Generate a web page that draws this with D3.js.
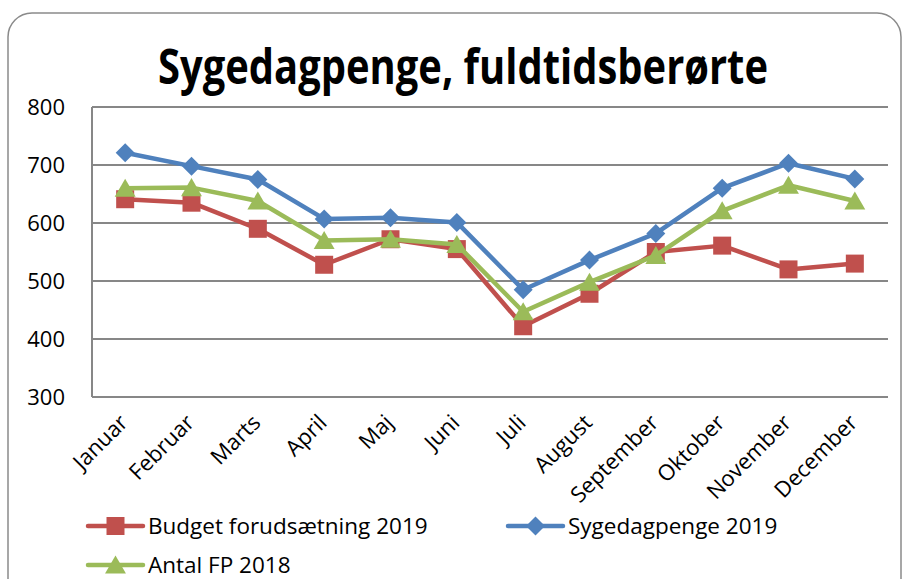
<!DOCTYPE html>
<html>
<head>
<meta charset="utf-8">
<script src="https://cdn.jsdelivr.net/npm/d3@7"></script>
<style>
  body { margin: 0; background: #fff; }
  text { font-family: "Open Sans", "Noto Sans", sans-serif; fill: #000; }
</style>
</head>
<body>
<div id="viz"></div>
<script>
// ====================
// DATA
// ====================
const months = ['Januar', 'Februar', 'Marts', 'April', 'Maj', 'Juni', 'Juli',
  'August', 'September', 'Oktober', 'November', 'December'];
const budget2019 = [641, 635, 590, 528, 572, 555, 422, 478, 550, 561, 520, 530];
const sygedagpenge2019 = [721, 698, 675, 607, 609, 601, 485, 536, 582, 660, 703, 676];
const antalFP2018 = [660, 661, 638, 570, 572, 563, 447, 498, 544, 621, 665, 638];
const yTicks = [300, 400, 500, 600, 700, 800];

const series = [
  { name: 'Budget forudsætning 2019', values: budget2019, color: '#C0504D', marker: 'square' },
  { name: 'Sygedagpenge 2019', values: sygedagpenge2019, color: '#4F81BD', marker: 'diamond' },
  { name: 'Antal FP 2018', values: antalFP2018, color: '#9BBB59', marker: 'triangle' }
];

// ====================
// SETUP
// ====================
const width = 907;
const height = 579;
const plot = { left: 92, right: 888, top: 107, bottom: 397 };

const svg = d3.select('#viz').append('svg')
  .attr('width', width)
  .attr('height', height);

// chart border (rounded, cut off at right/bottom)
svg.append('rect')
  .attr('x', 8).attr('y', 13)
  .attr('width', 893).attr('height', 620)
  .attr('rx', 24)
  .attr('fill', 'none')
  .attr('stroke', '#8a8a8a')
  .attr('stroke-width', 1.5);

// title
svg.append('text')
  .attr('x', 463).attr('y', 84)
  .attr('text-anchor', 'middle')
  .attr('font-size', 48)
  .attr('font-weight', 700)
  .attr('textLength', 610)
  .attr('lengthAdjust', 'spacingAndGlyphs')
  .text('Sygedagpenge, fuldtidsberørte');

// Scales
const x = d3.scaleBand().domain(months).range([plot.left, plot.right]);
const y = d3.scaleLinear().domain([300, 800]).range([plot.bottom, plot.top]);
const cx = (m) => x(m) + x.bandwidth() / 2;

// grid lines
svg.append('g')
  .selectAll('line')
  .data(yTicks)
  .join('line')
  .attr('x1', plot.left).attr('x2', plot.right)
  .attr('y1', (d) => y(d)).attr('y2', (d) => y(d))
  .attr('stroke', '#878787')
  .attr('stroke-width', 2);

// y axis line
svg.append('line')
  .attr('x1', plot.left).attr('x2', plot.left)
  .attr('y1', plot.top).attr('y2', plot.bottom)
  .attr('stroke', '#878787')
  .attr('stroke-width', 2);

// y labels
svg.append('g')
  .selectAll('text')
  .data(yTicks)
  .join('text')
  .attr('x', 65)
  .attr('y', (d) => y(d) + 8)
  .attr('text-anchor', 'end')
  .attr('font-size', 22)
  .text((d) => d);

// x labels (rotated)
svg.append('g')
  .selectAll('text')
  .data(months)
  .join('text')
  .attr('text-anchor', 'end')
  .attr('font-size', 22)
  .attr('transform', (d) => `translate(${cx(d) + 4},${424}) rotate(-45)`)
  .text((d) => d);

// ====================
// MARKERS
// ====================
const markerPath = (type, s) => {
  if (type === 'square') return d3.symbol(d3.symbolSquare, s * s)();
  if (type === 'diamond') return `M0,${-s / 2}L${s / 2},0L0,${s / 2}L${-s / 2},0Z`;
  return `M0,${-s * 0.5}L${s * 0.55},${s * 0.45}L${-s * 0.55},${s * 0.45}Z`;
};
const markerSize = { square: 18, diamond: 19, triangle: 19 };

const line = d3.line()
  .x((d, i) => cx(months[i]))
  .y((d) => y(d));

series.forEach((s) => {
  const g = svg.append('g');
  g.append('path')
    .attr('d', line(s.values))
    .attr('fill', 'none')
    .attr('stroke', s.color)
    .attr('stroke-width', 4.5)
    .attr('stroke-linejoin', 'round');
  g.selectAll('path.mk')
    .data(s.values)
    .join('path')
    .attr('class', 'mk')
    .attr('d', markerPath(s.marker, markerSize[s.marker]))
    .attr('transform', (d, i) => `translate(${cx(months[i])},${y(d)})`)
    .attr('fill', s.color);
});

// ====================
// LEGEND
// ====================
const legendPos = [
  { x: 88, y: 526 },
  { x: 508, y: 526 },
  { x: 88, y: 565 }
];

series.forEach((s, i) => {
  const p = legendPos[i];
  const g = svg.append('g').attr('transform', `translate(${p.x},${p.y})`);
  g.append('line')
    .attr('x1', 0).attr('x2', 55)
    .attr('stroke', s.color)
    .attr('stroke-width', 4.5)
    .attr('stroke-linecap', 'round');
  g.append('path')
    .attr('d', markerPath(s.marker, markerSize[s.marker]))
    .attr('transform', 'translate(27.5,0)')
    .attr('fill', s.color);
  g.append('text')
    .attr('x', 60).attr('y', 8)
    .attr('font-size', 22.5)
    .text(s.name);
});
</script>
</body>
</html>
